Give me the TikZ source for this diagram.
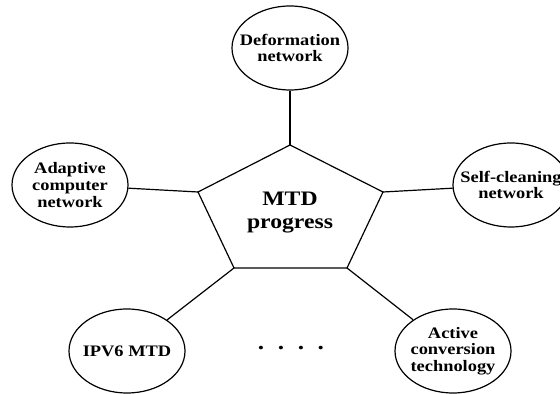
\documentclass[tikz,border=0pt]{standalone}
\usepackage{fontspec}
\setmainfont{Liberation Serif}[FakeStretch=1.15]
\usetikzlibrary{shapes.geometric}

\begin{document}
\begin{tikzpicture}[x=0.5pt,y=0.5pt,
	bubble/.style={draw, ellipse, line width=0.6pt, minimum width=58pt,
		minimum height=42pt, inner sep=0pt},
	every label/.style={align=center, inner sep=0pt,
		font=\fontsize{8}{8.3}\selectfont\bfseries},
	link/.style={line width=0.6pt}]
	\clip (0,0) rectangle (560,394);
	% pentagon in the middle
	\coordinate (ptop) at (290,249);
	\coordinate (pleft) at (198,202);
	\coordinate (pright) at (383,202);
	\coordinate (pbl) at (234,126);
	\coordinate (pbr) at (347,126);
	\draw[link] (ptop) -- (pright) -- (pbr) -- (pbl) -- (pleft) -- cycle;
	\node[align=center, font=\fontsize{10.3}{11.5}\selectfont\bfseries] (mtd) at (290,181) {MTD\\progress};
	% the topics round it
	\node[bubble, label=center:{Deformation\\network}] (deform) at (290,346) {};
	\node[bubble, label=center:{Adaptive\\computer\\network}] (adaptive) at (70,209) {};
	\node[bubble, label=center:{Self-cleaning\\network}] (selfclean) at (511,209) {};
	\node[bubble, label=center:{IPV6 MTD}] (ipvsix) at (127,43) {};
	\node[bubble, label=center:{Active\\conversion\\technology}] (active) at (453,43) {};
	\draw[link] (deform) -- (ptop);
	\draw[link] (adaptive) -- (pleft);
	\draw[link] (selfclean) -- (pright);
	\draw[link] (ipvsix) -- (pbl);
	\draw[link] (active) -- (pbr);
	\node[font=\fontsize{11}{11}\selectfont\bfseries] (dots) at (291,46) {.\hspace{6.8pt}.\hspace{6.8pt}.\hspace{6.8pt}.};
\end{tikzpicture}
\end{document}
